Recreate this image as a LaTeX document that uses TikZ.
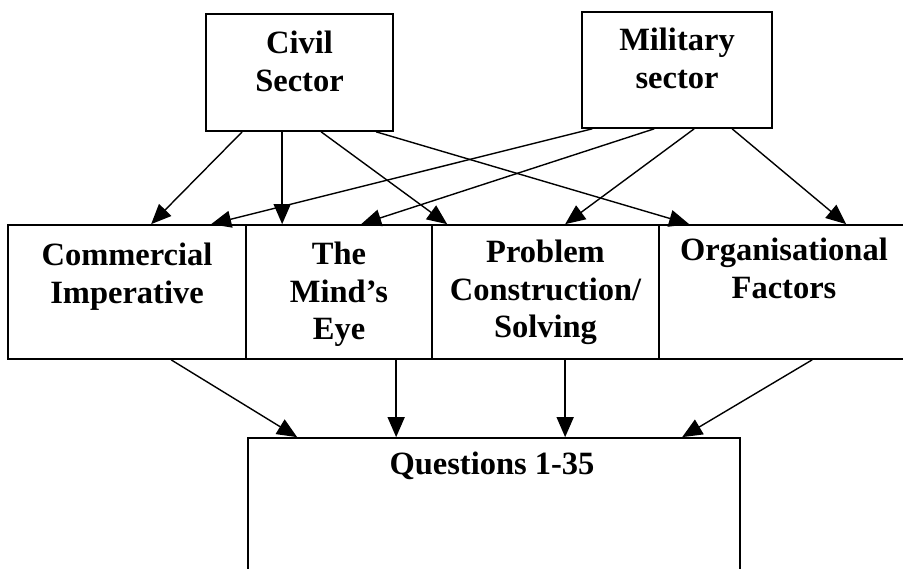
\documentclass[tikz,border=0pt]{standalone}
\usepackage{fontspec}
\setmainfont{Liberation Serif}
\usetikzlibrary{arrows.meta}
\begin{document}
\begin{tikzpicture}[x=1pt,y=-1pt,
  box/.style={draw, line width=1.7pt, inner sep=0pt},
  txt/.style={anchor=north, inner sep=0pt, align=center,
    font=\fontsize{32.5}{37.5}\selectfont\bfseries},
  arr/.style={-{Triangle[length=20pt,width=17pt]}, line width=1.4pt}]
\useasboundingbox (0,0) rectangle (903,569);

% sources
\node[box, minimum width=187pt, minimum height=117pt] (civ) at (299.5,72.5) {};
\node[box, minimum width=190pt, minimum height=116pt] (mil) at (677,70) {};
% middle row of themes
\node[box, minimum width=238pt, minimum height=134pt] (com)  at (127,292) {};
\node[box, minimum width=186pt, minimum height=134pt] (mind) at (339,292) {};
\node[box, minimum width=227pt, minimum height=134pt] (prob) at (545.5,292) {};
\node[box, minimum width=250pt, minimum height=134pt] (org)  at (784,292) {};
% questionnaire
\node[box, minimum width=492pt, minimum height=142pt] (q) at (494,509) {};

% labels
\node[txt] (civt)  at ([yshift=-18pt]civ.north)  {Civil\\Sector};
\node[txt] (milt)  at ([yshift=-17pt]mil.north)  {Military\\sector};
\node[txt] (comt)  at ([yshift=-19pt]com.north)  {Commercial\\Imperative};
\node[txt] (mindt) at ([yshift=-18pt]mind.north) {The\\Mind’s\\Eye};
\node[txt] (probt) at ([yshift=-16pt]prob.north) {Problem\\Construction/\\Solving};
\node[txt] (orgt)  at ([yshift=-14pt]org.north)  {Organisational\\Factors};
\node[txt] (qt)    at ([xshift=-2pt,yshift=-15pt]q.north) {Questions 1-35};

% civil sector links
\draw[arr] ([xshift=37pt]civ.south west)  -- ([xshift=144pt]com.north west);
\draw[arr] ([xshift=77pt]civ.south west)  -- ([xshift=37pt]mind.north west);
\draw[arr] ([xshift=116pt]civ.south west) -- ([xshift=16pt]prob.north west);
\draw[arr] ([xshift=171pt]civ.south west) -- ([xshift=31pt]org.north west);
% military sector links
\draw[arr] ([xshift=11pt]mil.south west)  -- ([xshift=204pt]com.north west);
\draw[arr] ([xshift=73pt]mil.south west)  -- ([xshift=116pt]mind.north west);
\draw[arr] ([xshift=113pt]mil.south west) -- ([xshift=134pt]prob.north west);
\draw[arr] ([xshift=151pt]mil.south west) -- ([xshift=188pt]org.north west);
% themes to questions
\draw[arr] ([xshift=164pt]com.south west)  -- ([xshift=50pt]q.north west);
\draw[arr] ([xshift=151pt]mind.south west) -- ([xshift=149pt]q.north west);
\draw[arr] ([xshift=134pt]prob.south west) -- ([xshift=318pt]q.north west);
\draw[arr] ([xshift=154pt]org.south west)  -- ([xshift=435pt]q.north west);
\end{tikzpicture}
\end{document}
